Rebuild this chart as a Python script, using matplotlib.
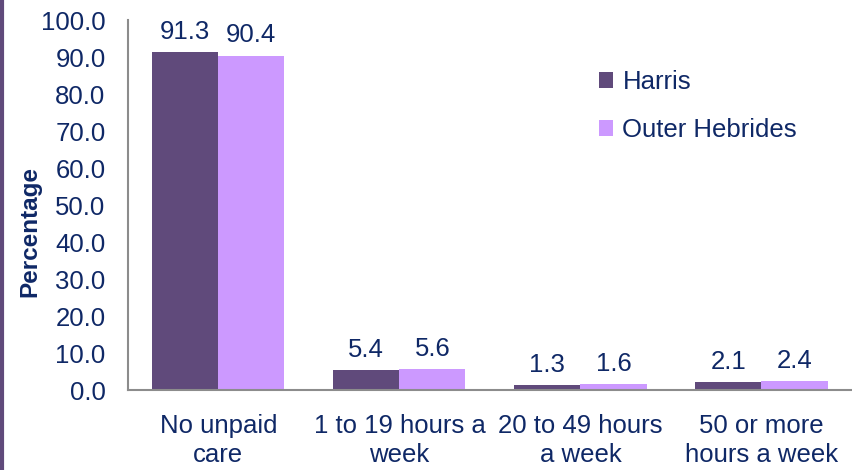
import matplotlib.pyplot as plt
import numpy as np
from matplotlib.lines import Line2D

plt.rcParams['font.family'] = ['Liberation Sans', 'DejaVu Sans']

categories = ['No unpaid\ncare', '1 to 19 hours a\nweek', '20 to 49 hours\na week', '50 or more\nhours a week']
harris = [91.3, 5.4, 1.3, 2.1]
outer_hebrides = [90.4, 5.6, 1.6, 2.4]
yticks = np.arange(0, 101, 10)

text_col = '#0F2866'
c_harris = '#604A7B'
c_oh = '#CC99FF'
fs = 18.5

fig = plt.figure(figsize=(8.52, 4.7), dpi=100)
ax = fig.add_axes([0.150, 0.170, 0.850, 0.787])

x = np.arange(len(categories))
w = 0.365
b1 = ax.bar(x - w / 2, harris, w, color=c_harris, label='Harris')
b2 = ax.bar(x + w / 2, outer_hebrides, w, color=c_oh, label='Outer Hebrides')

for bars, vals in ((b1, harris), (b2, outer_hebrides)):
    for r, v in zip(bars, vals):
        ax.annotate(f'{v:.1f}', (r.get_x() + r.get_width() / 2, v),
                    xytext=(0, 6), textcoords='offset points',
                    ha='center', va='bottom', fontsize=fs, color=text_col)

ax.set_xlim(-0.5, len(categories) - 0.5)
ax.set_ylim(0, 100)
ax.set_yticks(yticks)
ax.set_yticklabels([f'{t:.1f}' for t in yticks])
ax.set_xticks(x)
ax.set_xticklabels(categories, linespacing=1.3)
ax.tick_params(axis='y', length=0, pad=16, labelsize=fs, labelcolor=text_col)
ax.tick_params(axis='x', length=0, pad=17, labelsize=fs, labelcolor=text_col)
ax.set_ylabel('Percentage', fontsize=17.5, fontweight='bold', color=text_col)
ax.yaxis.set_label_coords(-0.119, 0.43)

for s in ('top', 'right'):
    ax.spines[s].set_visible(False)
for s in ('left', 'bottom'):
    ax.spines[s].set_color('#8C8C8C')
    ax.spines[s].set_linewidth(1.5)

ax.legend(loc='upper left', bbox_to_anchor=(0.65, 0.865), frameon=False,
          borderaxespad=0, borderpad=0,
          fontsize=fs, labelcolor=text_col, handlelength=0.58, handleheight=0.58,
          handletextpad=0.35, labelspacing=0.92)

# left border strip
fig.add_artist(Line2D([0.002, 0.002], [0, 1], color='#604A7B', lw=3,
                      transform=fig.transFigure))

fig.savefig('out.png', dpi=100)
